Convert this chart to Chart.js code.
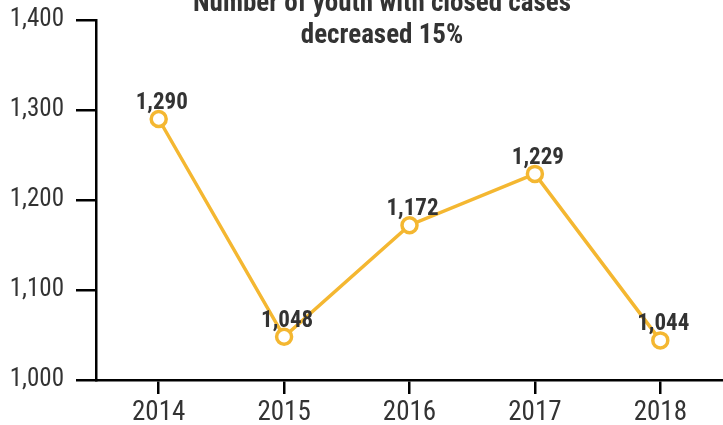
<!DOCTYPE html>
<html><head><meta charset="utf-8">
<script src="https://cdn.jsdelivr.net/npm/chart.js@4/dist/chart.umd.min.js"></script>
<style>html,body{margin:0;padding:0;background:#fff}#wrap{width:723px;height:425px}</style>
</head><body><div id="wrap"><canvas id="c" width="723" height="425"></canvas></div>
<script>
const categories = ["2014","2015","2016","2017","2018"];
const closedCases = [1290,1048,1172,1229,1044];
const yTicks = [1000,1100,1200,1300,1400];
const titleLines = ["Number of youth with closed cases","decreased 15%"];
const FONT = "'Roboto Condensed','Liberation Sans Narrow','Arial Narrow',Roboto,sans-serif";
const ORANGE = "#F4B731";
const fmt = v => v.toLocaleString("en-US");

const labelPlugin = {
  id:"labels",
  afterDatasetsDraw(chart){
    const ctx = chart.ctx;
    const meta = chart.getDatasetMeta(0);
    ctx.save();
    ctx.font = "bold 23px " + FONT;
    ctx.fillStyle = "#333333";
    ctx.textAlign = "center";
    ctx.textBaseline = "middle";
    meta.data.forEach((p,i)=>{ ctx.fillText(fmt(closedCases[i]), p.x+3, p.y-16); });
    ctx.restore();
  }
};
const titlePlugin = {
  id:"ttl",
  afterDraw(chart){
    const ctx = chart.ctx;
    ctx.save();
    ctx.font = "bold 27px " + FONT;
    ctx.fillStyle = "#333333";
    ctx.textAlign = "center";
    ctx.textBaseline = "middle";
    ctx.fillText(titleLines[0], 382, 4);
    ctx.fillText(titleLines[1], 382, 36);
    ctx.restore();
  }
};

new Chart(document.getElementById("c"), {
  type:"line",
  data:{labels:categories,datasets:[{data:closedCases,borderColor:ORANGE,borderWidth:3.5,
    pointRadius:7.5,pointBorderWidth:3.5,pointBackgroundColor:"#fff",pointBorderColor:ORANGE,tension:0}]},
  options:{
    responsive:false,animation:false,
    layout:{autoPadding:false,padding:{top:20,right:0,left:0,bottom:0}},
    plugins:{legend:{display:false},tooltip:{enabled:false},title:{display:false}},
    scales:{
      x:{offset:true,
        grid:{display:true,drawOnChartArea:false,offset:false,color:"#000",lineWidth:2.5,tickLength:14,tickWidth:2.5},
        border:{color:"#000",width:2.5},
        ticks:{color:"#333",font:{family:FONT,size:27},padding:3,maxRotation:0},
        afterFit(s){s.height=45;s.paddingLeft=0;s.paddingRight=0;}
      },
      y:{min:1000,max:1400,
        afterBuildTicks(s){s.ticks=yTicks.map(v=>({value:v}));},
        grid:{display:true,drawOnChartArea:false,color:"#000",lineWidth:2.5,tickLength:20,tickWidth:2.5},
        border:{color:"#000",width:2.5},
        ticks:{color:"#333",font:{family:FONT,size:25},padding:12,callback:v=>fmt(v)},
        afterFit(s){s.width=96;s.paddingTop=0;s.paddingBottom=0;}
      }
    }
  },
  plugins:[labelPlugin,titlePlugin]
});
</script></body></html>
